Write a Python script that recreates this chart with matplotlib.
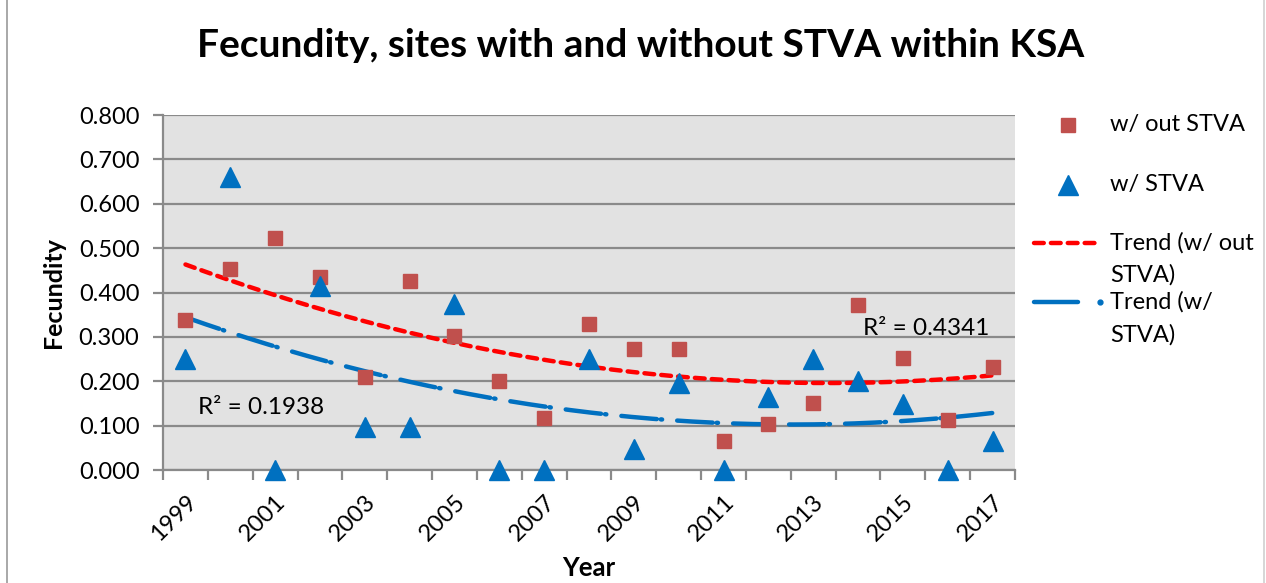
import numpy as np
import matplotlib.pyplot as plt
from matplotlib.lines import Line2D

plt.rcParams['font.family'] = ['Lato', 'DejaVu Sans']

years = list(range(1999, 2018))
without_stva = [0.338, 0.454, 0.522, 0.435, 0.209, 0.426, 0.302, 0.200, 0.118, 0.329,
                0.272, 0.272, 0.065, 0.104, 0.152, 0.373, 0.253, 0.113, 0.233]
with_stva = [0.250, 0.661, 0.000, 0.414, 0.097, 0.097, 0.374, 0.000, 0.000, 0.250,
             0.048, 0.197, 0.000, 0.164, 0.250, 0.200, 0.149, 0.000, 0.066]
r2_without = "R² = 0.4341"
r2_with = "R² = 0.1938"
y_ticks = [0.0, 0.1, 0.2, 0.3, 0.4, 0.5, 0.6, 0.7, 0.8]

RED_PT = "#c0504d"
BLUE = "#0070c0"
RED_LINE = "#ff0000"
GRID = "#8a8a8a"
RED_DASH = (0, (2.2, 1.6))
BLUE_DASH = (0, (8.0, 0.9, 0.3, 3.4))

fig = plt.figure(figsize=(12.66, 5.83), dpi=100)
ax = fig.add_axes([0.1288, 0.1938, 0.6729, 0.6089])
ax.set_facecolor("#e2e2e2")

x = np.array(years, dtype=float)
idx = np.arange(1, len(years) + 1)

# 2nd order polynomial trend lines, like Excel
xs = np.linspace(1, len(years), 200)
fit_r = np.polyval(np.polyfit(idx, without_stva, 2), xs)
fit_b = np.polyval(np.polyfit(idx, with_stva, 2), xs)
xs_year = xs + years[0] - 1

ax.plot(xs_year, fit_r, color=RED_LINE, lw=3.2, linestyle=RED_DASH,
        dash_capstyle='round', zorder=3)
ax.plot(xs_year, fit_b, color=BLUE, lw=3.2, linestyle=BLUE_DASH,
        dash_capstyle='round', zorder=3)

ax.plot(x, without_stva, 's', color=RED_PT, markersize=9.5, zorder=4)
ax.plot(x, with_stva, '^', color=BLUE, markersize=14, zorder=5, clip_on=False)

ax.text(1999.28, 0.14, r2_with, fontsize=17.5, va='center', ha='left', zorder=6)
ax.text(2014.1, 0.32, r2_without, fontsize=17.5, va='center', ha='left', zorder=6)

ax.set_xlim(years[0] - 0.5, years[-1] + 0.5)
ax.set_ylim(0, 0.8)
ax.set_yticks(y_ticks)
ax.set_yticklabels([f"{v:.3f}" for v in y_ticks])
ax.yaxis.grid(True, color=GRID, lw=1.6)
ax.set_axisbelow(True)

ax.set_xticks(years[::2])
ax.set_xticklabels([str(y) for y in years[::2]], rotation=45, ha='right', va='top',
                   rotation_mode='anchor')
ax.set_xticks(np.arange(years[0] - 0.5, years[-1] + 1), minor=True)
ax.tick_params(axis='x', which='major', length=0, pad=15, labelsize=17)
ax.tick_params(axis='x', which='minor', length=7, width=1.6, color=GRID)
ax.tick_params(axis='y', length=7, width=1.6, color=GRID, labelsize=17, pad=10)

for side in ['top', 'right']:
    ax.spines[side].set_visible(False)
for side in ['left', 'bottom']:
    ax.spines[side].set_color(GRID)
    ax.spines[side].set_linewidth(1.6)

ax.set_xlabel("Year", fontsize=18.5, fontweight='bold', labelpad=8)
ax.set_ylabel("Fecundity", fontsize=18, fontweight='bold', labelpad=10)
fig.text(0.506, 0.922, "Fecundity, sites with and without STVA within KSA",
         fontsize=28, fontweight='bold', ha='center', va='center')

# legend drawn by hand so the handle sits on the first line of wrapped labels
def fx(px):
    return px / 1266

def fy(py):
    return 1 - py / 583

fig.add_artist(Line2D([fx(1068)], [fy(125)], marker='s', color=RED_PT, markersize=9.5, lw=0))
fig.text(fx(1110), fy(125), "w/ out STVA", fontsize=17, va='center')
fig.add_artist(Line2D([fx(1068)], [fy(185)], marker='^', color=BLUE, markersize=14, lw=0))
fig.text(fx(1110), fy(185), "w/ STVA", fontsize=17, va='center')
fig.add_artist(Line2D([fx(1034), fx(1098)], [fy(243), fy(243)], color=RED_LINE, lw=3.2,
                      linestyle=RED_DASH, dash_capstyle='round'))
fig.text(fx(1110), fy(243), "Trend (w/ out", fontsize=17, va='center')
fig.text(fx(1110), fy(275), "STVA)", fontsize=17, va='center')
fig.add_artist(Line2D([fx(1034), fx(1078)], [fy(302), fy(302)], color=BLUE, lw=3.2,
                      solid_capstyle='round'))
fig.add_artist(Line2D([fx(1100)], [fy(302)], marker='o', color=BLUE, markersize=3.5, lw=0))
fig.text(fx(1110), fy(302), "Trend (w/", fontsize=17, va='center')
fig.text(fx(1110), fy(335), "STVA)", fontsize=17, va='center')

# chart area border
fig.add_artist(Line2D([fx(7), fx(7)], [0, 1], color="#9a9a9a", lw=1.2))
fig.add_artist(Line2D([fx(1264), fx(1264)], [0, 1], color="#d0d0d0", lw=1.2))

fig.savefig("out.png", dpi=100)
